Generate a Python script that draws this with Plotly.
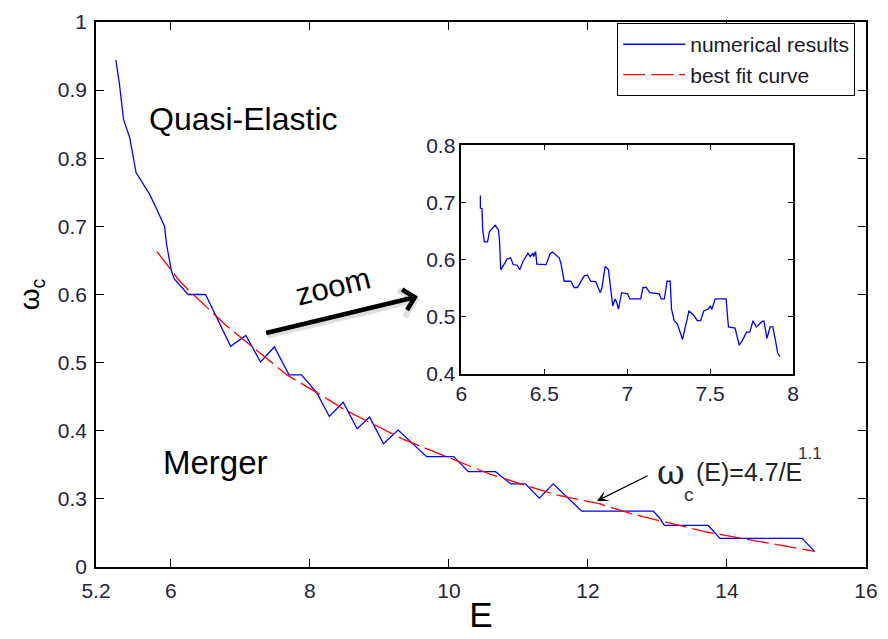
import plotly.graph_objects as go

# ---- data -------------------------------------------------------------
# numerical results, full range
E_num = [5.21, 5.26, 5.32, 5.41, 5.50, 5.69, 5.79, 5.91, 5.94, 6.01, 6.05, 6.25,
         6.50, 6.86, 7.08, 7.29, 7.49, 7.70, 7.88, 8.10, 8.28, 8.48, 8.68, 8.86,
         9.06, 9.27, 9.68, 10.07, 10.28, 10.67, 10.89, 11.10, 11.30, 11.50, 11.91,
         12.94, 13.03, 13.10, 13.73, 13.90, 15.08, 15.26]
w_num = [0.944, 0.910, 0.857, 0.830, 0.779, 0.748, 0.727, 0.700, 0.673, 0.634, 0.623, 0.600,
         0.600, 0.524, 0.540, 0.501, 0.523, 0.482, 0.482, 0.456, 0.421, 0.442, 0.403, 0.420,
         0.381, 0.401, 0.362, 0.362, 0.340, 0.340, 0.322, 0.322, 0.301, 0.322, 0.282,
         0.282, 0.272, 0.261, 0.261, 0.242, 0.242, 0.223]

# best fit curve
E_fit = [5.80, 6.11, 6.25, 6.65, 6.79, 7.20, 7.67, 8.28, 8.48, 9.33, 9.90, 10.60,
         11.54, 12.16, 12.63, 13.72, 15.26]
w_fit = [0.663, 0.622, 0.607, 0.569, 0.555, 0.521, 0.482, 0.445, 0.432, 0.388, 0.365, 0.336,
         0.306, 0.293, 0.278, 0.251, 0.223]

# zoomed numerical results (6 < E < 8)
E_zoom = [6.115, 6.115, 6.125, 6.129, 6.139, 6.158, 6.170, 6.204, 6.224, 6.230, 6.238, 6.250,
          6.277, 6.297, 6.313, 6.337, 6.352, 6.372, 6.402, 6.416, 6.432, 6.436, 6.448, 6.455,
          6.511, 6.535, 6.550, 6.590, 6.600, 6.620, 6.660, 6.680, 6.700, 6.740, 6.760, 6.780,
          6.810, 6.838, 6.848, 6.867, 6.887, 6.907, 6.913, 6.927, 6.937, 6.947, 6.966, 7.002,
          7.016, 7.081, 7.095, 7.115, 7.135, 7.194, 7.204, 7.224, 7.240, 7.259, 7.267, 7.283,
          7.303, 7.333, 7.352, 7.372, 7.402, 7.422, 7.442, 7.461, 7.487, 7.501, 7.510, 7.530,
          7.596, 7.610, 7.650, 7.675, 7.695, 7.719, 7.739, 7.758, 7.778, 7.814, 7.824, 7.842,
          7.861, 7.877, 7.893, 7.907, 7.921]
w_zoom = [0.712, 0.690, 0.689, 0.652, 0.631, 0.631, 0.649, 0.660, 0.652, 0.634, 0.582, 0.588,
          0.601, 0.603, 0.591, 0.590, 0.582, 0.597, 0.611, 0.605, 0.611, 0.605, 0.614, 0.592,
          0.591, 0.610, 0.613, 0.603, 0.594, 0.562, 0.562, 0.551, 0.551, 0.571, 0.573, 0.562,
          0.561, 0.542, 0.551, 0.588, 0.582, 0.533, 0.519, 0.531, 0.525, 0.513, 0.542, 0.540,
          0.531, 0.531, 0.551, 0.551, 0.542, 0.540, 0.531, 0.531, 0.562, 0.562, 0.513, 0.493,
          0.487, 0.460, 0.487, 0.510, 0.502, 0.493, 0.493, 0.510, 0.513, 0.519, 0.513, 0.531,
          0.531, 0.482, 0.480, 0.450, 0.459, 0.473, 0.473, 0.493, 0.482, 0.492, 0.492, 0.462,
          0.482, 0.482, 0.459, 0.436, 0.430]

# axis ticks
X_MIN = 4.924
x_tickvals = [X_MIN, 6, 8, 10, 12, 14, 16]
x_ticktext = ["5.2", "6", "8", "10", "12", "14", "16"]
y_tickvals = [0.2, 0.3, 0.4, 0.5, 0.6, 0.7, 0.8, 0.9, 1.0]
y_ticktext = ["0", "0.3", "0.4", "0.5", "0.6", "0.7", "0.8", "0.9", "1"]
xz_tickvals = [6, 6.5, 7, 7.5, 8]
xz_ticktext = ["6", "6.5", "7", "7.5", "8"]
yz_tickvals = [0.4, 0.5, 0.6, 0.7, 0.8]
yz_ticktext = ["0.4", "0.5", "0.6", "0.7", "0.8"]

# ---- figure -----------------------------------------------------------
FONT = "Liberation Sans, Arial, sans-serif"
TICKCOL = "#24243c"
BLUE = "#0000ff"
RED = "#ff0000"

fig = go.Figure()

fig.add_trace(go.Scatter(x=E_num, y=w_num, mode="lines", name="numerical results",
                         legendgroup="a", line=dict(color=BLUE, width=1.3)))
fig.add_trace(go.Scatter(x=E_fit, y=w_fit, mode="lines", name="best fit curve",
                         legendgroup="b", line=dict(color=RED, width=1.3, dash="22px,6px")))
fig.add_trace(go.Scatter(x=E_zoom, y=w_zoom, mode="lines", showlegend=False,
                         xaxis="x2", yaxis="y2", line=dict(color=BLUE, width=1.3)))

axis_common = dict(showgrid=False, zeroline=False, showline=True, linecolor="black",
                   mirror="ticks", ticks="inside", tickcolor="black")

fig.update_layout(
    width=888, height=639,
    margin=dict(l=96, r=10, t=14, b=72),
    paper_bgcolor="white", plot_bgcolor="white",
    font=dict(family=FONT, color="black"),
    xaxis=dict(range=[X_MIN, 16], tickvals=x_tickvals, ticktext=x_ticktext,
               ticklen=8, linewidth=1.5, tickwidth=1.2, ticklabelstandoff=4,
               tickfont=dict(size=21, color=TICKCOL),
               title=dict(text="E", font=dict(size=35, color="black"), standoff=2),
               **axis_common),
    yaxis=dict(range=[0.2, 1.0], tickvals=y_tickvals, ticktext=y_ticktext,
               ticklen=8, linewidth=1.5, tickwidth=1.2, ticklabelstandoff=3,
               tickfont=dict(size=21, color=TICKCOL),
               title=dict(text="ω<sub>c</sub>", font=dict(size=28, color="black"), standoff=10),
               **axis_common),
    xaxis2=dict(domain=[0.4744, 0.9054], anchor="y2", range=[6, 8],
                tickvals=xz_tickvals, ticktext=xz_ticktext,
                ticklen=5, linewidth=1.5, tickwidth=1.2, ticklabelstandoff=0,
                tickfont=dict(size=21, color=TICKCOL), **axis_common),
    yaxis2=dict(domain=[0.3544, 0.774], anchor="x2", range=[0.4, 0.8],
                tickvals=yz_tickvals, ticktext=yz_ticktext,
                ticklen=5, linewidth=1.5, tickwidth=1.2, ticklabelstandoff=0,
                tickfont=dict(size=21, color=TICKCOL), **axis_common),
    legend=dict(x=0.986, y=0.998, xanchor="right", yanchor="top",
                bgcolor="white", bordercolor="black", borderwidth=1,
                font=dict(size=21, color="#1a1a2a"), traceorder="grouped",
                tracegroupgap=0, itemwidth=62),
    showlegend=True,
)

ann = []
ann.append(dict(x=7.05, y=0.858, xref="x", yref="y", text="Quasi-Elastic", showarrow=False,
                font=dict(size=32, color="black")))
ann.append(dict(x=6.64, y=0.354, xref="x", yref="y", text="Merger", showarrow=False,
                font=dict(size=33, color="black")))
ann.append(dict(x=8.33, y=0.612, xref="x", yref="y", text="zoom", showarrow=False,
                textangle=-14, font=dict(size=31, color="black")))
# arrow pointing towards the inset (soft shadow underneath)
ann.append(dict(x=9.575, y=0.593, ax=7.37, ay=0.539, xref="x", yref="y", axref="x", ayref="y",
                text="", showarrow=True, arrowhead=4, arrowsize=0.9, arrowwidth=6,
                arrowcolor="rgba(0,0,0,0.12)"))
ann.append(dict(x=9.555, y=0.597, ax=7.35, ay=0.543, xref="x", yref="y", axref="x", ayref="y",
                text="", showarrow=True, arrowhead=4, arrowsize=0.9, arrowwidth=4.5,
                arrowcolor="black"))
# fit formula label
ann.append(dict(x=13.2, y=0.339, xref="x", yref="y", text="ω", showarrow=False,
                font=dict(size=34, color="#222222", family="DejaVu Serif, serif")))
ann.append(dict(x=13.45, y=0.307, xref="x", yref="y", text="c", showarrow=False,
                font=dict(size=19, color="#333333")))
ann.append(dict(x=13.52, y=0.339, xref="x", yref="y", text="(E)=4.7/E", showarrow=False,
                xanchor="left", font=dict(size=25, color="#222222")))
ann.append(dict(x=15.2, y=0.366, xref="x", yref="y", text="1.1", showarrow=False,
                font=dict(size=17, color="#333344")))
ann.append(dict(x=12.13, y=0.297, ax=12.88, ay=0.335, xref="x", yref="y", axref="x", ayref="y",
                text="", showarrow=True, arrowhead=3, arrowsize=1.6, arrowwidth=1.2,
                arrowcolor="black"))
fig.update_layout(annotations=ann)

fig.write_html("out.html")
